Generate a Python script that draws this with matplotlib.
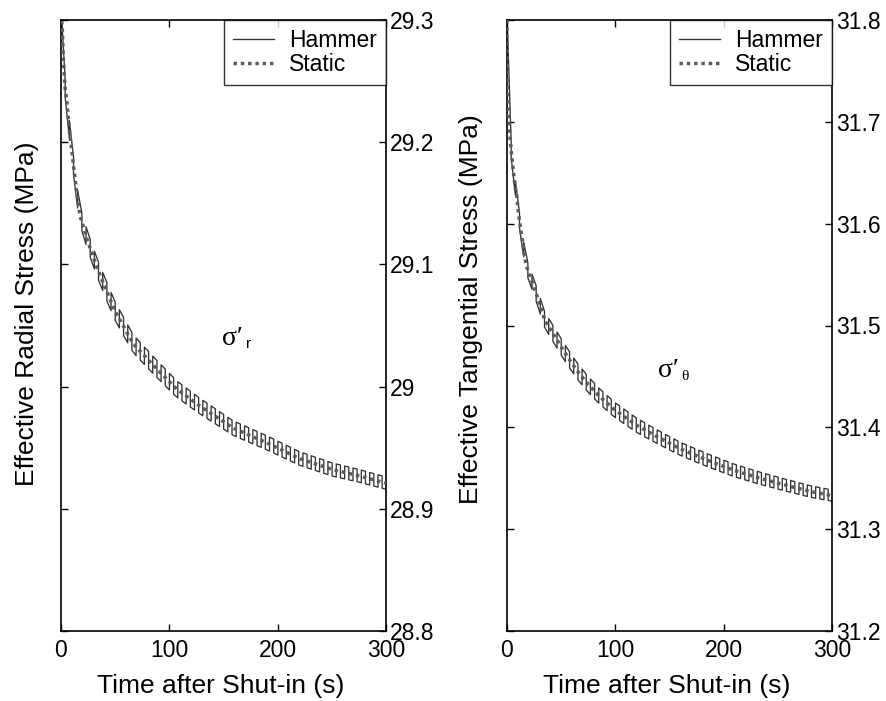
import numpy as np
import matplotlib
matplotlib.use("Agg")
import matplotlib.pyplot as plt

plt.rcParams["font.family"] = ["Liberation Sans", "DejaVu Sans"]

# ---- data -------------------------------------------------------------
# static (no hammer) effective stress decline after shut-in
t_static_r = [0.0, 1.2, 2.1, 3.7, 5.2, 6.2, 8.3, 9.9, 11.4, 14.5, 17.5, 24.3,
              33.0, 42.2, 49.8, 66.7, 86.8, 106.8, 128.3, 159.0, 190.0,
              220.6, 251.0, 275.0, 300.0]
static_r = [29.305, 29.293, 29.270, 29.245, 29.235, 29.225, 29.205, 29.194,
            29.182, 29.159, 29.140, 29.120, 29.098, 29.078, 29.062, 29.035,
            29.016, 28.998, 28.984, 28.966, 28.954, 28.941, 28.932, 28.927,
            28.921]

t_static_t = [0.0, 0.3, 1.2, 2.1, 2.8, 4.3, 7.4, 8.9, 10.4, 13.5, 17.5, 19.7,
              27.4, 35.0, 44.3, 53.5, 64.3, 75.0, 85.8, 99.7, 119.7, 138.2,
              159.7, 184.3, 208.9, 233.5, 258.0, 280.0, 300.0]
static_t = [31.800, 31.730, 31.715, 31.697, 31.685, 31.667, 31.637, 31.628,
            31.612, 31.588, 31.560, 31.553, 31.530, 31.505, 31.489, 31.473,
            31.456, 31.442, 31.430, 31.417, 31.402, 31.391, 31.379, 31.368,
            31.358, 31.350, 31.343, 31.337, 31.333]

# water-hammer swing: half peak-to-peak amplitude and oscillation period
t_amp = [0.0, 50.0, 150.0, 300.0]
amp_r = [0.0070, 0.0075, 0.0060, 0.0050]
amp_t = [0.0070, 0.0080, 0.0065, 0.0055]
hammer_period = 7.7  # s

x_ticks = [0, 100, 200, 300]
y_ticks_r = [28.8, 28.9, 29.0, 29.1, 29.2, 29.3]
y_ticks_t = [31.2, 31.3, 31.4, 31.5, 31.6, 31.7, 31.8]
y_ticklabels_r = ["28.8", "28.9", "29", "29.1", "29.2", "29.3"]
y_ticklabels_t = ["31.2", "31.3", "31.4", "31.5", "31.6", "31.7", "31.8"]


def hammer_trace(t_s, s_s, a_vals, t_end=300.0):
    """Square-wave pressure swing riding on the static decline."""
    half = hammer_period / 2.0
    edges = np.arange(0.0, t_end + half, half)
    th = np.column_stack([edges[:-1], edges[1:]]).ravel()
    sign = np.repeat((-1.0) ** np.arange(len(edges) - 1), 2)
    yh = np.interp(th, t_s, s_s) + sign * np.interp(th, t_amp, a_vals)
    return th, yh


FS_TICK = 16.5
FS_LABEL = 19
HAMMER_C = "#333333"
STATIC_C = "#5c5c5c"

fig = plt.figure(figsize=(8.87, 7.01), dpi=100)
W, H = 887.0, 701.0
ax_l = fig.add_axes([61 / W, (H - 631) / H, 325 / W, 611 / H])
ax_r = fig.add_axes([507 / W, (H - 631) / H, 325 / W, 611 / H])

panels = [
    (ax_l, t_static_r, static_r, amp_r, (28.8, 29.3), y_ticks_r, y_ticklabels_r,
     "Effective Radial Stress (MPa)", "r", "sans", (148.6, 29.034), (-0.068, 0.52)),
    (ax_r, t_static_t, static_t, amp_t, (31.2, 31.8), y_ticks_t, y_ticklabels_t,
     "Effective Tangential Stress (MPa)", "\u03b8", "serif", (139.4, 31.449), (-0.073, 0.527)),
]

for ax, ts, ss, aa, ylim, yt, ytl, ylab, sub, subfam, (tx, ty), ylpos in panels:
    th, yh = hammer_trace(ts, ss, aa)
    ax.plot(th, yh, color=HAMMER_C, lw=0.95, label="Hammer", zorder=2)
    ax.plot(ts, ss, color=STATIC_C, lw=2.5, linestyle=(0, (1.0, 1.1)),
            dash_capstyle="butt", label="Static", zorder=3)

    ax.set_xlim(0, 300)
    ax.set_ylim(*ylim)
    ax.set_xticks(x_ticks)
    ax.set_yticks(yt)
    ax.set_yticklabels(ytl)
    ax.tick_params(axis="both", which="both", direction="in", length=5,
                   width=1.0, labelsize=FS_TICK, top=True, right=True,
                   left=True, bottom=True, labelleft=False, labelright=True)
    ax.tick_params(axis="x", pad=6)
    ax.tick_params(axis="y", pad=3)
    for sp in ax.spines.values():
        sp.set_linewidth(1.2)
        sp.set_color("black")

    ax.set_xlabel("Time after Shut-in (s)", fontsize=FS_LABEL)
    ax.xaxis.set_label_coords(0.49, -0.071)
    ax.set_ylabel(ylab, fontsize=FS_LABEL)
    ax.yaxis.set_label_position("left")
    ax.yaxis.set_label_coords(*ylpos)

    leg = ax.legend(loc="upper right", fontsize=16.5, frameon=True,
                    fancybox=False, borderaxespad=0.0, handlelength=1.8,
                    handletextpad=0.65, borderpad=0.4, labelspacing=0.05)
    leg.get_frame().set_edgecolor("black")
    leg.get_frame().set_linewidth(1.0)

    ax.text(tx, ty, "\u03c3\u2032", fontsize=20, family="Liberation Serif",
            ha="left", va="baseline")
    ax.annotate(sub, xy=(tx, ty), xytext=(17, -2), textcoords="offset points",
                fontsize=11,
                family="Liberation Serif" if subfam == "serif" else "Liberation Sans",
                ha="left", va="baseline")

fig.savefig("out.png", dpi=100)
